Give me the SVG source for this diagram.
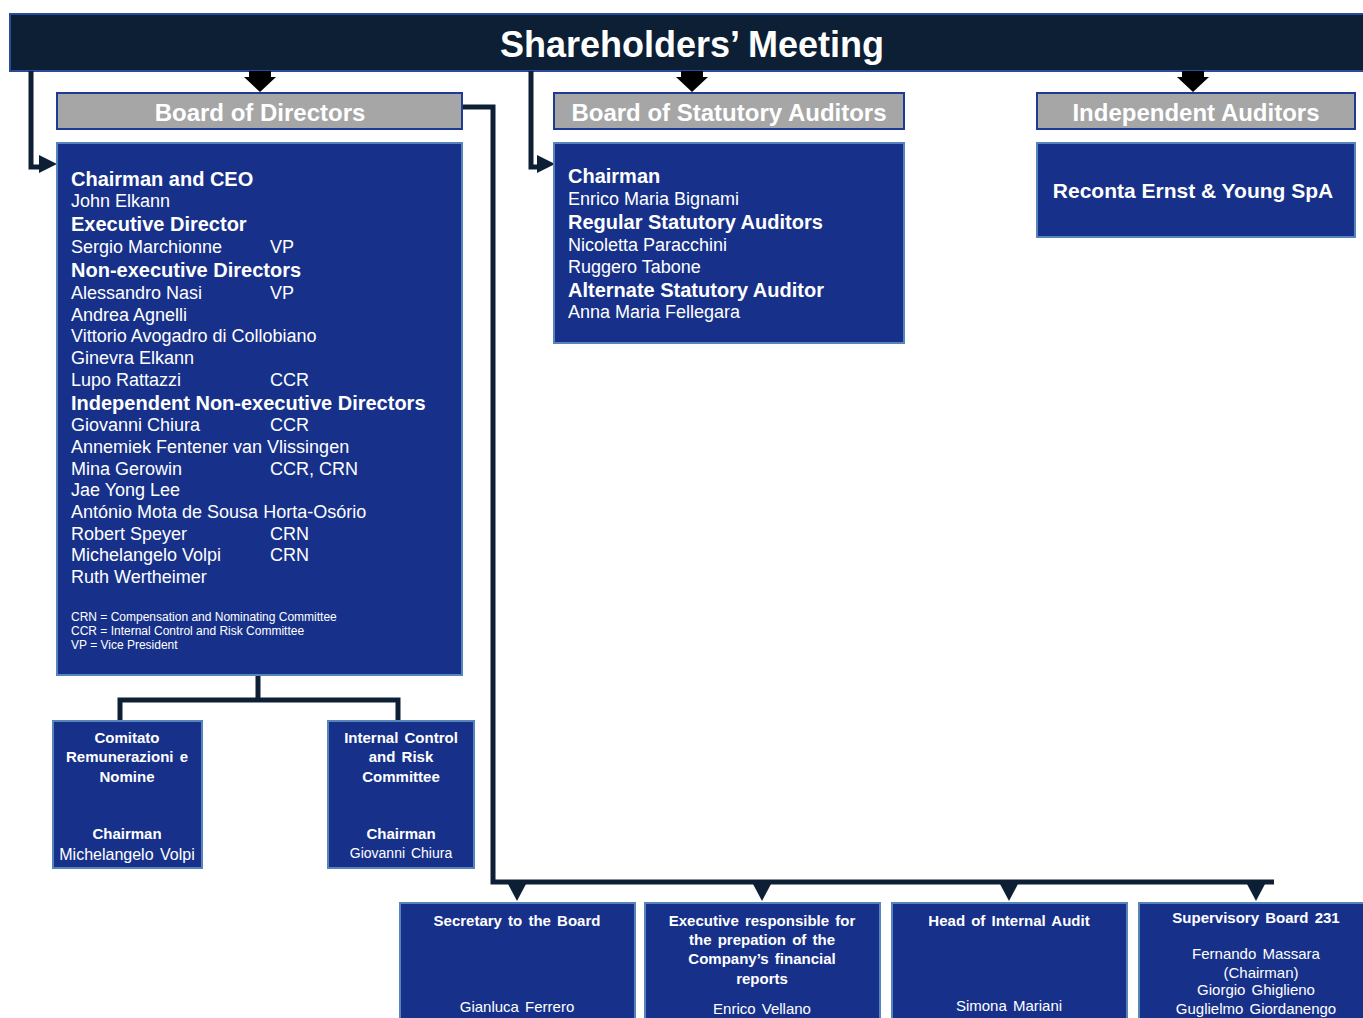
<svg xmlns="http://www.w3.org/2000/svg" width="1363" height="1018" viewBox="0 0 1363 1018">
  <style>
    text { font-family: "Liberation Sans", Arial, sans-serif; fill: #ffffff; }
    .box { fill: #17318a; stroke: #5585bb; stroke-width: 2; }
    .hdr { fill: #a6a6a6; stroke: #1f3a94; stroke-width: 2; }
    .hdrt { font-size: 24px; font-weight: bold; text-anchor: middle; }
    .h { font-size: 20px; font-weight: bold; }
    .r { font-size: 18px; }
    .leg { font-size: 12px; }
    .cb { font-size: 15px; font-weight: bold; text-anchor: middle; word-spacing: 2px; }
    .cr { font-size: 15px; text-anchor: middle; word-spacing: 2px; }
    .line { fill: none; stroke: #0c1f35; stroke-width: 5; }
    .tri { fill: #0c1f35; }
    .blk { fill: #000000; }
  </style>

  <!-- top banner -->
  <g id="shareholders">
    <rect x="10" y="14" width="1365" height="57" fill="#0c1f35" stroke="#2a4b9b" stroke-width="2"/>
    <text x="692" y="57" font-size="36" font-weight="bold" text-anchor="middle">Shareholders’ Meeting</text>
  </g>

  <!-- connectors -->
  <g id="connectors">
    <!-- block arrows under the banner -->
    <path class="blk" d="M249,71 H271 V77 H276 L260,92 L244,77 H249 Z"/>
    <path class="blk" d="M681,71 H703 V77 H708 L692,92 L676,77 H681 Z"/>
    <path class="blk" d="M1182,71 H1204 V77 H1209 L1193,92 L1177,77 H1182 Z"/>
    <!-- elbow arrows into the main boxes -->
    <path class="line" d="M31,71 V167 H42"/>
    <polygon class="tri" points="39,155 57,164 39,173"/>
    <path class="line" d="M531,71 V167 H540"/>
    <polygon class="tri" points="537,155 555,164 537,173"/>
    <!-- board to committees -->
    <path class="line" d="M258,675 V700 M120,721 V700 H398 V721"/>
    <!-- board to staff functions -->
    <path class="line" d="M462,107 H493 V882 H1274"/>
    <polygon class="tri" points="508,884 526,884 517,901"/>
    <polygon class="tri" points="753,884 771,884 762,901"/>
    <polygon class="tri" points="1000,884 1018,884 1009,901"/>
    <polygon class="tri" points="1247,884 1265,884 1256,901"/>
  </g>

  <!-- Board of Directors -->
  <g id="board-header">
    <rect class="hdr" x="57" y="93" width="405" height="36"/>
    <text class="hdrt" x="260" y="121">Board of Directors</text>
  </g>
  <g id="board">
    <rect class="box" x="57" y="143" width="405" height="532"/>
    <text class="h" x="71" y="186">Chairman and CEO</text>
    <text class="r" x="71" y="207">John Elkann</text>
    <text class="h" x="71" y="231">Executive Director</text>
    <text class="r" x="71" y="253">Sergio Marchionne</text><text class="r" x="270" y="253">VP</text>
    <text class="h" x="71" y="277">Non-executive Directors</text>
    <text class="r" x="71" y="299">Alessandro Nasi</text><text class="r" x="270" y="299">VP</text>
    <text class="r" x="71" y="321">Andrea Agnelli</text>
    <text class="r" x="71" y="342">Vittorio Avogadro di Collobiano</text>
    <text class="r" x="71" y="364">Ginevra Elkann</text>
    <text class="r" x="71" y="386">Lupo Rattazzi</text><text class="r" x="270" y="386">CCR</text>
    <text class="h" x="71" y="410">Independent Non-executive Directors</text>
    <text class="r" x="71" y="431">Giovanni Chiura</text><text class="r" x="270" y="431">CCR</text>
    <text class="r" x="71" y="453">Annemiek Fentener van Vlissingen</text>
    <text class="r" x="71" y="475">Mina Gerowin</text><text class="r" x="270" y="475">CCR, CRN</text>
    <text class="r" x="71" y="496">Jae Yong Lee</text>
    <text class="r" x="71" y="518">António Mota de Sousa Horta-Osório</text>
    <text class="r" x="71" y="540">Robert Speyer</text><text class="r" x="270" y="540">CRN</text>
    <text class="r" x="71" y="561">Michelangelo Volpi</text><text class="r" x="270" y="561">CRN</text>
    <text class="r" x="71" y="583">Ruth Wertheimer</text>
    <text class="leg" x="71" y="621">CRN = Compensation and Nominating Committee</text>
    <text class="leg" x="71" y="635">CCR = Internal Control and Risk Committee</text>
    <text class="leg" x="71" y="649">VP = Vice President</text>
  </g>

  <!-- Board of Statutory Auditors -->
  <g id="statutory-header">
    <rect class="hdr" x="554" y="93" width="350" height="36"/>
    <text class="hdrt" x="729" y="121">Board of Statutory Auditors</text>
  </g>
  <g id="statutory">
    <rect class="box" x="554" y="143" width="350" height="200"/>
    <text class="h" x="568" y="183">Chairman</text>
    <text class="r" x="568" y="205">Enrico Maria Bignami</text>
    <text class="h" x="568" y="229">Regular Statutory Auditors</text>
    <text class="r" x="568" y="251">Nicoletta Paracchini</text>
    <text class="r" x="568" y="273">Ruggero Tabone</text>
    <text class="h" x="568" y="297">Alternate Statutory Auditor</text>
    <text class="r" x="568" y="318">Anna Maria Fellegara</text>
  </g>

  <!-- Independent Auditors -->
  <g id="independent-header">
    <rect class="hdr" x="1037" y="93" width="318" height="36"/>
    <text class="hdrt" x="1196" y="121">Independent Auditors</text>
  </g>
  <g id="independent">
    <rect class="box" x="1037" y="143" width="318" height="94"/>
    <text x="1193" y="198" font-size="21" font-weight="bold" text-anchor="middle">Reconta Ernst &amp; Young SpA</text>
  </g>

  <!-- committees -->
  <g id="committee-remuneration">
    <rect class="box" x="53" y="721" width="149" height="147"/>
    <text class="cb" x="127" y="743">Comitato</text>
    <text class="cb" x="127" y="762">Remunerazioni e</text>
    <text class="cb" x="127" y="782">Nomine</text>
    <text class="cb" x="127" y="839">Chairman</text>
    <text x="127" y="860" font-size="16" text-anchor="middle" word-spacing="2">Michelangelo Volpi</text>
  </g>
  <g id="committee-control">
    <rect class="box" x="328" y="721" width="146" height="147"/>
    <text class="cb" x="401" y="743">Internal Control</text>
    <text class="cb" x="401" y="762">and Risk</text>
    <text class="cb" x="401" y="782">Committee</text>
    <text class="cb" x="401" y="839">Chairman</text>
    <text x="401" y="858" font-size="14" text-anchor="middle" word-spacing="2">Giovanni Chiura</text>
  </g>

  <!-- staff functions -->
  <g id="secretary">
    <rect class="box" x="400" y="903" width="235" height="125"/>
    <text class="cb" x="517" y="926">Secretary to the Board</text>
    <text class="cr" x="517" y="1012">Gianluca Ferrero</text>
  </g>
  <g id="financial-reporting">
    <rect class="box" x="645" y="903" width="235" height="125"/>
    <text class="cb" x="762" y="926">Executive responsible for</text>
    <text class="cb" x="762" y="945">the prepation of the</text>
    <text class="cb" x="762" y="964">Company’s financial</text>
    <text class="cb" x="762" y="984">reports</text>
    <text class="cr" x="762" y="1014">Enrico Vellano</text>
  </g>
  <g id="internal-audit">
    <rect class="box" x="892" y="903" width="235" height="125"/>
    <text class="cb" x="1009" y="926">Head of Internal Audit</text>
    <text class="cr" x="1009" y="1011">Simona Mariani</text>
  </g>
  <g id="supervisory-board">
    <rect class="box" x="1139" y="903" width="240" height="125"/>
    <text class="cb" x="1256" y="923">Supervisory Board 231</text>
    <text class="cr" x="1256" y="959">Fernando Massara</text>
    <text class="cr" x="1261" y="978">(Chairman)</text>
    <text class="cr" x="1256" y="995">Giorgio Ghiglieno</text>
    <text class="cr" x="1256" y="1014">Guglielmo Giordanengo</text>
  </g>
</svg>
